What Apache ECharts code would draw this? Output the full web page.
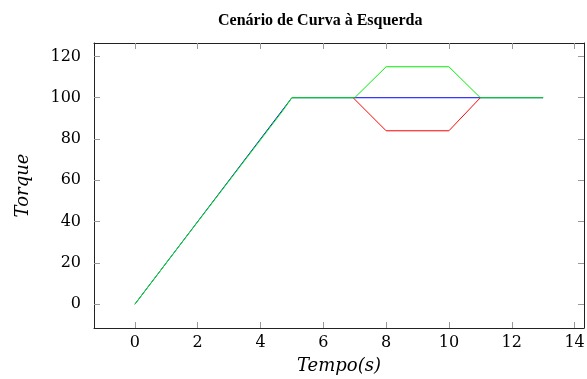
<!DOCTYPE html>
<html>
<head>
<meta charset="utf-8">
<script src="https://cdn.jsdelivr.net/npm/echarts@6/dist/echarts.min.js"></script>
<style>html,body{margin:0;padding:0;background:#fff;}#c{width:587px;height:379px;}</style>
</head>
<body>
<div id="c"></div>
<script>
const titleText = 'Cenário de Curva à Esquerda';
const xLabel = 'Tempo(s)';
const yLabel = 'Torque';
const xTicks = [0, 2, 4, 6, 8, 10, 12, 14];
const yTicks = [0, 20, 40, 60, 80, 100, 120];
const blueData = [[0, 0], [5, 100], [13, 100]];
const greenData = [[0, 0], [1.1, 22], [4.7, 93.5], [5, 100], [7, 100], [8, 115], [10, 115], [11, 100], [13, 100]];
const redData = [[6.95, 100], [8, 84], [10, 84], [11, 100]];

const serif = '"Liberation Serif", "DejaVu Serif", serif';
const dserif = '"DejaVu Serif", serif';
const chart = echarts.init(document.getElementById('c'), null, {renderer: 'canvas'});
const tickStyle = {show: true, inside: true, length: 6, lineStyle: {color: '#999', width: 1}};
const lineStyle = {show: true, onZero: false, lineStyle: {color: '#222', width: 1}};
function xa(pos, labels) {
  return {
    type: 'value', position: pos, min: -1.3, max: 14.3,
    axisLine: lineStyle,
    axisTick: Object.assign({customValues: xTicks}, tickStyle),
    axisLabel: {show: labels, customValues: xTicks, fontFamily: dserif, fontSize: 16, color: '#000', margin: 7},
    splitLine: {show: false},
    name: labels ? xLabel : '', nameLocation: 'middle', nameGap: 29,
    nameTextStyle: {fontFamily: dserif, fontStyle: 'italic', fontSize: 18, color: '#000'}
  };
}
function ya(pos, labels) {
  return {
    type: 'value', position: pos, min: -11.5, max: 126.5,
    axisLine: lineStyle,
    axisTick: Object.assign({customValues: yTicks}, tickStyle),
    axisLabel: {show: labels, customValues: yTicks, fontFamily: dserif, fontSize: 16, color: '#000', margin: 13},
    splitLine: {show: false},
    name: labels ? yLabel : '', nameLocation: 'middle', nameGap: 62,
    nameTextStyle: {fontFamily: dserif, fontStyle: 'italic', fontSize: 18, color: '#000'}
  };
}
chart.setOption({
  animation: false,
  title: {
    text: titleText, left: 213, top: 8,
    textStyle: {fontFamily: serif, fontWeight: 'bold', fontSize: 16, color: '#000'}
  },
  grid: {left: 94, right: 3, top: 43, bottom: 51, containLabel: false, outerBoundsMode: 'none'},
  xAxis: [xa('bottom', true), xa('top', false)],
  yAxis: [ya('left', true), ya('right', false)],
  series: [
    {type: 'line', data: blueData, symbol: 'none', lineStyle: {color: '#0000ff', width: 1}, z: 2},
    {type: 'line', data: redData, symbol: 'none', lineStyle: {color: '#ff0000', width: 1}, z: 3},
    {type: 'line', data: greenData, symbol: 'none', lineStyle: {color: '#00ee00', width: 1}, z: 4}
  ]
});
</script>
</body>
</html>
